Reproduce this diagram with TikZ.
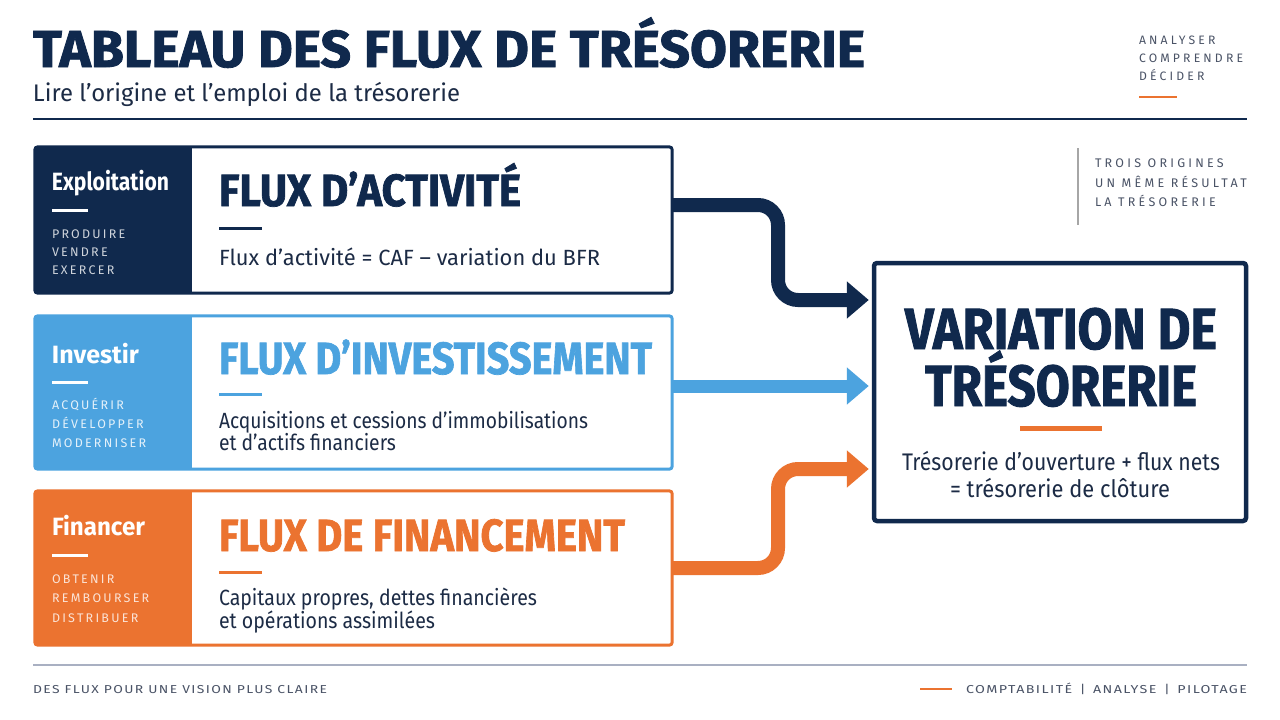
\documentclass[tikz,border=0pt]{standalone}
\usepackage{fontspec}
\usepackage{graphicx}
\usetikzlibrary{arrows.meta,calc}
\setmainfont{Fira Sans}
\newfontfamily\headfont[BoldFeatures={FakeBold=1.6}]{Fira Sans}
\newfontfamily\capsfont[LetterSpace=18]{Fira Sans}
\newfontfamily\trfont[LetterSpace=26]{Fira Sans}
\newfontfamily\footfont[LetterSpace=10]{Fira Sans}
\definecolor{navy}{HTML}{10294D}
\definecolor{skyb}{HTML}{4CA3DF}
\definecolor{orng}{HTML}{EB7330}
\definecolor{txtdark}{HTML}{1C2B45}
\definecolor{txtgray}{HTML}{4A5366}
\definecolor{footline}{HTML}{A9B0C2}
\newcommand\fitw[2]{\resizebox{#1pt}{\height}{#2}}
\newcommand\fsz[1]{\fontsize{#1}{#1}\selectfont}
\tikzset{
  txt/.style={anchor=base west, inner sep=0pt, outer sep=0pt},
  ctxt/.style={anchor=base, inner sep=0pt, outer sep=0pt},
  cardbox/.style={minimum width=637pt, minimum height=#1, inner sep=0pt, fill=white},
  panel/.style 2 args={fill=#1, minimum width=157pt, minimum height=#2, inner sep=0pt, anchor=north west},
  border/.style={draw=#1, line width=3pt, rounded corners=3pt},
  flow/.style={draw=#1, line width=14pt, rounded corners=20pt, -{Triangle[length=22pt,width=36pt]}},
}
\begin{document}
\begin{tikzpicture}[x=1pt,y=-1pt]
\useasboundingbox (0,0) rectangle (1280,720);
\fill[white] (0,0) rectangle (1280,720);

% header
\node[txt, text=navy] (title) at (33,67) {\fitw{832}{\headfont\bfseries\fsz{52}TABLEAU DES FLUX DE TRÉSORERIE}};
\node[txt, text=txtdark] (subtitle) at (33,101) {\fitw{427}{\fsz{24}Lire l’origine et l’emploi de la trésorerie}};
\draw[navy, line width=2pt] (33,119) -- (1247,119);

\node[txt, text=txtgray] (tr1) at (1139,44) {\trfont\fsz{12.2}ANALYSER};
\node[txt, text=txtgray] (tr2) at (1139,62) {\trfont\fsz{12.2}COMPRENDRE};
\node[txt, text=txtgray] (tr3) at (1139,80) {\trfont\fsz{12.2}DÉCIDER};
\draw[orng, line width=2.5pt] (1139,97) -- (1177,97);

\draw[gray!70, line width=1.2pt] (1078,148) -- (1078,225);
\node[txt, text=txtgray] (ms1) at (1095,167) {\trfont\fsz{12.5}TROIS ORIGINES};
\node[txt, text=txtgray] (ms2) at (1095,187) {\trfont\fsz{12.5}UN MÊME RÉSULTAT};
\node[txt, text=txtgray] (ms3) at (1095,206) {\trfont\fsz{12.5}LA TRÉSORERIE};

% card 1
\node[cardbox=146pt] (box1) at (353.5,220) {};
\node[panel={navy}{146pt}] (pan1) at (box1.north west) {};
\draw[border=navy] (box1.north west) rectangle (box1.south east);
\node[txt, text=white] (lab1) at (52,190) {\fitw{117}{\bfseries\fsz{25}Exploitation}};
\draw[white, line width=3pt] (52,210) -- (88,210);
\node[txt, text=white!80!navy] (w11) at (52,238) {\capsfont\fsz{12.5}PRODUIRE};
\node[txt, text=white!80!navy] (w12) at (52,256) {\capsfont\fsz{12.5}VENDRE};
\node[txt, text=white!80!navy] (w13) at (52,274) {\capsfont\fsz{12.5}EXERCER};
\node[txt, text=navy] (t1) at (219,206) {\fitw{302}{\headfont\bfseries\fsz{45}FLUX D’ACTIVITÉ}};
\draw[navy, line width=3pt] (219,228) -- (262,228);
\node[txt, text=txtdark] (f1) at (219,265) {\fitw{381}{\fsz{22}Flux d’activité = CAF – variation du BFR}};

% card 2
\node[cardbox=153pt] (box2) at (353.5,392.5) {};
\node[panel={skyb}{153pt}] (pan2) at (box2.north west) {};
\draw[border=skyb] (box2.north west) rectangle (box2.south east);
\node[txt, text=white] (lab2) at (52,363) {\fitw{87}{\bfseries\fsz{25}Investir}};
\draw[white, line width=3pt] (52,382) -- (88,382);
\node[txt, text=white!85!skyb] (w21) at (52,409) {\capsfont\fsz{12.5}ACQUÉRIR};
\node[txt, text=white!85!skyb] (w22) at (52,428) {\capsfont\fsz{12.5}DÉVELOPPER};
\node[txt, text=white!85!skyb] (w23) at (52,447) {\capsfont\fsz{12.5}MODERNISER};
\node[txt, text=skyb] (t2) at (219,374) {\fitw{433}{\headfont\bfseries\fsz{45}FLUX D’INVESTISSEMENT}};
\draw[skyb, line width=3pt] (219,394) -- (262,394);
\node[txt, text=txtdark] (f21) at (219,428) {\fitw{369}{\fsz{22}Acquisitions et cessions d’immobilisations}};
\node[txt, text=txtdark] (f22) at (219,450) {\fitw{177}{\fsz{22}et d’actifs financiers}};

% card 3
\node[cardbox=154pt] (box3) at (353.5,568) {};
\node[panel={orng}{154pt}] (pan3) at (box3.north west) {};
\draw[border=orng] (box3.north west) rectangle (box3.south east);
\node[txt, text=white] (lab3) at (52,535) {\fitw{93}{\bfseries\fsz{25}Financer}};
\draw[white, line width=3pt] (52,555) -- (88,555);
\node[txt, text=white!80!orng] (w31) at (52,583) {\capsfont\fsz{12.5}OBTENIR};
\node[txt, text=white!80!orng] (w32) at (52,602) {\capsfont\fsz{12.5}REMBOURSER};
\node[txt, text=white!80!orng] (w33) at (52,622) {\capsfont\fsz{12.5}DISTRIBUER};
\node[txt, text=orng] (t3) at (219,551) {\fitw{406}{\headfont\bfseries\fsz{45}FLUX DE FINANCEMENT}};
\draw[orng, line width=3pt] (219,572) -- (262,572);
\node[txt, text=txtdark] (f31) at (219,605) {\fitw{318}{\fsz{22}Capitaux propres, dettes financières}};
\node[txt, text=txtdark] (f32) at (219,628) {\fitw{216}{\fsz{22}et opérations assimilées}};

% result box
\node[draw=navy, line width=4.5pt, rounded corners=3pt, minimum width=372pt, minimum height=258pt, inner sep=0pt] (res) at (1060,392) {};
\node[ctxt, text=navy] (r1) at (1061,349) {\fitw{312}{\headfont\bfseries\fsz{58}VARIATION DE}};
\node[ctxt, text=navy] (r2) at (1061,406) {\fitw{272}{\headfont\bfseries\fsz{58}TRÉSORERIE}};
\draw[orng, line width=5pt] (1020,428) -- (1102,428);
\node[ctxt, text=txtdark] (r3) at (1061,470) {\fitw{318}{\fsz{24}Trésorerie d’ouverture + flux nets}};
\node[ctxt, text=txtdark] (r4) at (1060,497) {\fitw{220}{\fsz{24}= trésorerie de clôture}};

% connectors
\coordinate (a1) at ([yshift=15pt]box1.east);
\coordinate (e1) at ([xshift=-3pt,yshift=92pt]res.west);
\coordinate (m1) at (778,0);
\draw[flow=navy] (a1) -- (a1 -| m1) -- (e1 -| m1) -- (e1);

\coordinate (a2) at ([yshift=6.5pt]box2.east);
\coordinate (e2) at ([xshift=-3pt,yshift=6pt]res.west);
\draw[flow=skyb, line width=13pt] (a2) -- (e2);

\coordinate (a3) at (box3.east);
\coordinate (e3) at ([xshift=-3pt,yshift=-77pt]res.west);
\draw[flow=orng] (a3) -- (a3 -| m1) -- (e3 -| m1) -- (e3);

% footer
\draw[footline, line width=2pt] (33,665) -- (1247,665);
\node[txt, text=txtgray] (fl) at (33,693) {\fitw{294}{\footfont\fsz{11.5}DES FLUX POUR UNE VISION PLUS CLAIRE}};
\draw[orng, line width=2.5pt] (920,689) -- (952,689);
\node[txt, text=txtgray] (fr) at (966,693) {\fitw{281}{\footfont\fsz{11.5}COMPTABILITÉ \,|\, ANALYSE \,|\, PILOTAGE}};
\end{tikzpicture}
\end{document}
